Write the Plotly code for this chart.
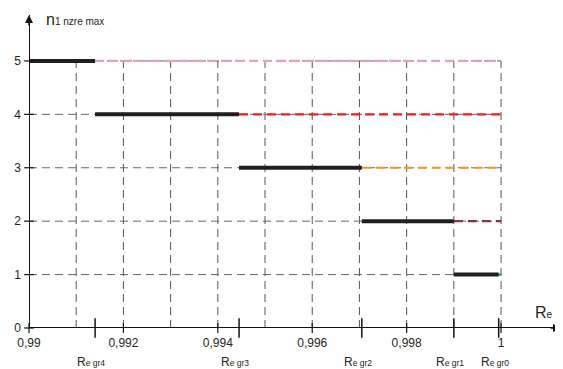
import plotly.graph_objects as go

# ---- data ----
levels = [5, 4, 3, 2, 1]
seg_start = [0.99, 0.9914, 0.99445, 0.99705, 0.9990]
seg_end = [0.9914, 0.99445, 0.99705, 0.9990, 0.99995]
x_end = 1.0
dash_colors = ["#f49ac1", "#ed1c24", "#f7941d", "#8e2a5e", "#00a651"]

x_tickvals = [0.99, 0.992, 0.994, 0.996, 0.998, 1.0]
x_ticktext = ["0,99", "0,992", "0,994", "0,996", "0,998", "1"]
y_tickvals = [0, 1, 2, 3, 4, 5]
grid_x = [0.991, 0.992, 0.993, 0.994, 0.995, 0.996, 0.997, 0.998, 0.999, 1.0]
gr_vals = [0.9914, 0.99445, 0.99705, 0.9990, 0.99995]
gr_names = ["gr4", "gr3", "gr2", "gr1", "gr0"]

X0, X1 = 0.99, 1.00127
Y0, Y1 = 0.0, 5.86

FONT = "Liberation Sans, Arial, sans-serif"
TXT = "#231f20"

fig = go.Figure()

# vertical dashed grid (0..5)
gx, gy = [], []
for v in grid_x:
    gx += [v, v, None]
    gy += [0, 5, None]
fig.add_trace(go.Scatter(x=gx, y=gy, mode="lines",
                         line=dict(color="#555555", width=1, dash="8px,5px"),
                         hoverinfo="skip", showlegend=False))
# horizontal dashed grid
hx, hy = [], []
for lv in levels:
    hx += [X0, x_end, None]
    hy += [lv, lv, None]
fig.add_trace(go.Scatter(x=hx, y=hy, mode="lines",
                         line=dict(color="#666666", width=1, dash="8px,5px"),
                         hoverinfo="skip", showlegend=False))

# colored dashed continuations
for lv, s, c in zip(levels, seg_end, dash_colors):
    fig.add_trace(go.Scatter(x=[s, x_end], y=[lv, lv], mode="lines",
                             line=dict(color=c, width=2.2, dash="9px,5px"),
                             hoverinfo="skip", showlegend=False))

# thick black segments
for lv, s, e in zip(levels, seg_start, seg_end):
    fig.add_trace(go.Scatter(x=[s, e], y=[lv, lv], mode="lines",
                             line=dict(color="#231f20", width=4),
                             hoverinfo="skip", showlegend=False))

# axis lines
fig.add_trace(go.Scatter(x=[X0, X1], y=[0, 0], mode="lines",
                         line=dict(color="#111111", width=2),
                         hoverinfo="skip", showlegend=False, cliponaxis=False))
fig.add_trace(go.Scatter(x=[X0, X0], y=[0, Y1], mode="lines",
                         line=dict(color="#111111", width=2),
                         hoverinfo="skip", showlegend=False, cliponaxis=False))

# tick marks crossing axes
fig.add_trace(go.Scatter(x=x_tickvals, y=[0] * len(x_tickvals), mode="markers",
                         marker=dict(symbol="line-ns", size=7,
                                     line=dict(color="#111111", width=1.2)),
                         hoverinfo="skip", showlegend=False, cliponaxis=False))
fig.add_trace(go.Scatter(x=gr_vals, y=[0] * len(gr_vals), mode="markers",
                         marker=dict(symbol="line-ns", size=14,
                                     line=dict(color="#111111", width=1.5)),
                         hoverinfo="skip", showlegend=False, cliponaxis=False))
fig.add_trace(go.Scatter(x=[X0] * len(y_tickvals), y=y_tickvals, mode="markers",
                         marker=dict(symbol="line-ew", size=7,
                                     line=dict(color="#111111", width=1.2)),
                         hoverinfo="skip", showlegend=False, cliponaxis=False))

annotations = []
# arrow heads
annotations.append(dict(x=X1, y=0, xref="x", yref="y", ax=-12, ay=0,
                        showarrow=True, arrowhead=2, arrowsize=1, arrowwidth=1.6,
                        arrowcolor="#111111", text=""))
annotations.append(dict(x=X0, y=Y1, xref="x", yref="y", ax=0, ay=12,
                        showarrow=True, arrowhead=2, arrowsize=1, arrowwidth=1.6,
                        arrowcolor="#111111", text=""))
# gr labels
for v, n in zip(gr_vals, gr_names):
    annotations.append(dict(x=v, y=0, xref="x", yref="y", yshift=-34, xshift=-4,
                            text="R<span style='font-size:8.5px'>e " + n + "</span>",
                            showarrow=False, xanchor="center", yanchor="middle",
                            font=dict(size=12, color=TXT, family=FONT)))
# axis titles
annotations.append(dict(x=X0, y=Y1, xref="x", yref="y", xshift=15, yshift=-4,
                        text="n<span style='font-size:10px'>1 nzre max</span>",
                        showarrow=False, xanchor="left", yanchor="middle",
                        font=dict(size=16, color=TXT, family=FONT)))
annotations.append(dict(x=X1, y=0, xref="x", yref="y", xshift=-6, yshift=16,
                        text="R<span style='font-size:10px'>e</span>",
                        showarrow=False, xanchor="right", yanchor="middle",
                        font=dict(size=16, color=TXT, family=FONT)))

# page body has an 8px margin: figure sits at (8, 8)
fig.update_layout(
    width=555, height=361,
    margin=dict(l=21, r=2, t=7, b=41, autoexpand=False),
    paper_bgcolor="white", plot_bgcolor="white",
    showlegend=False,
    annotations=annotations,
    font=dict(family=FONT, size=12, color=TXT),
    xaxis=dict(range=[X0, X1], showgrid=False, zeroline=False, showline=False,
               tickvals=x_tickvals, ticktext=x_ticktext, ticks="",
               ticklabelstandoff=6, fixedrange=True, automargin=False),
    yaxis=dict(range=[Y0, Y1], showgrid=False, zeroline=False, showline=False,
               tickvals=y_tickvals, ticks="", ticklabelstandoff=7,
               fixedrange=True, automargin=False),
)

fig.write_html("out.html")
